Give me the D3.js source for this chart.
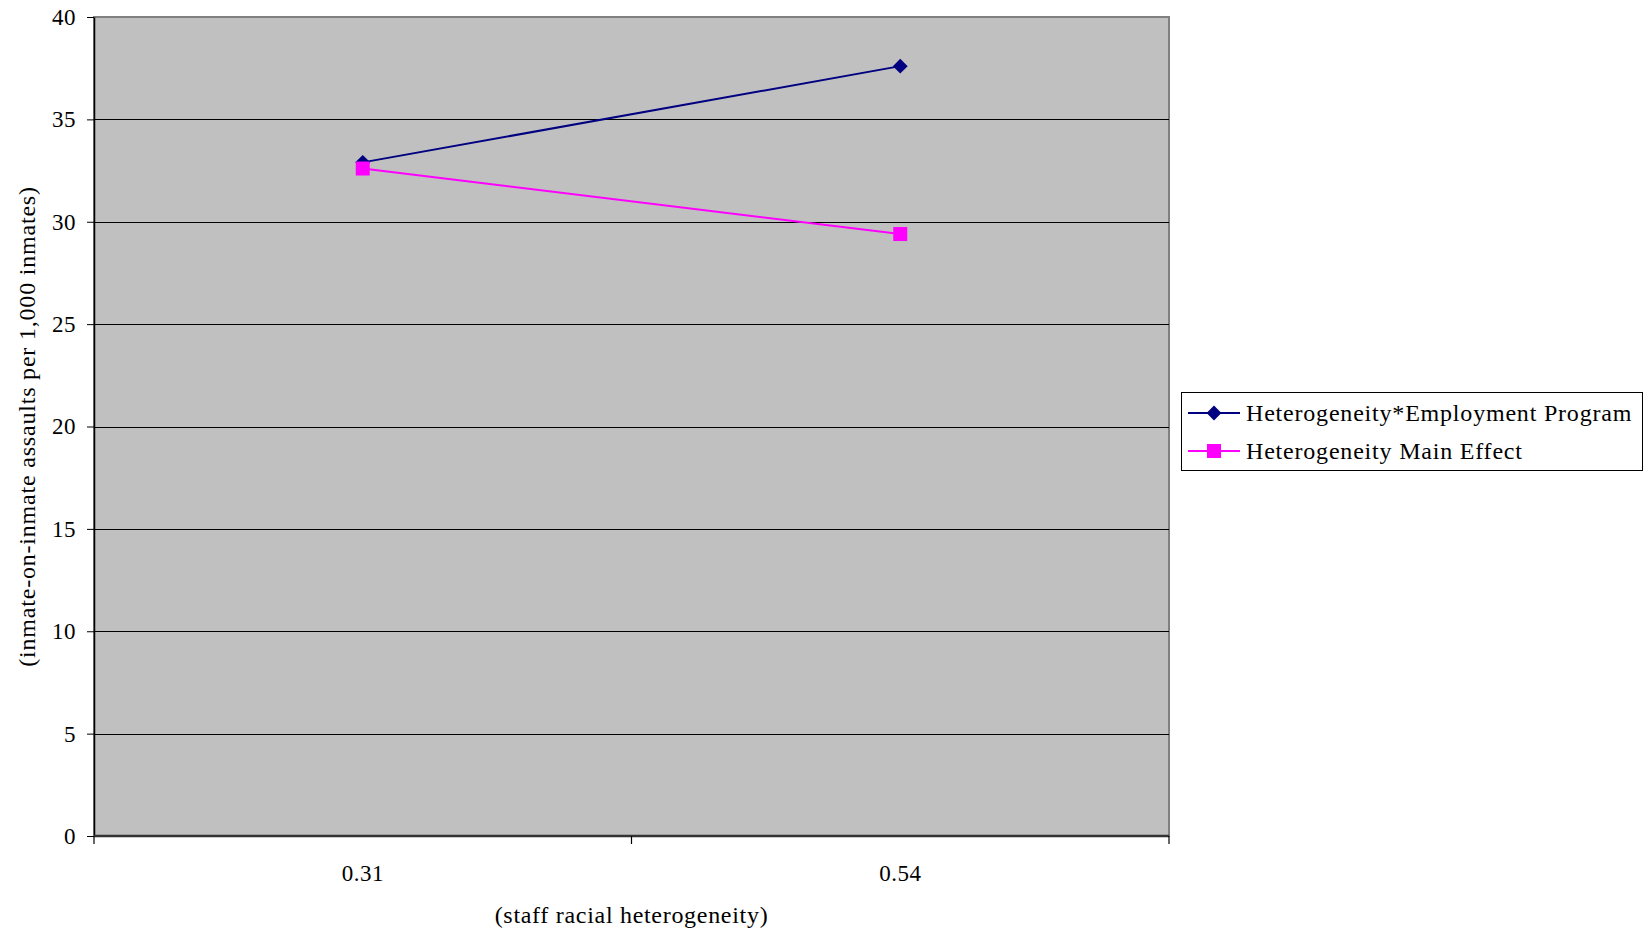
<!DOCTYPE html>
<html>
<head>
<meta charset="utf-8">
<script src="https://cdn.jsdelivr.net/npm/d3@7"></script>
<style>
  html, body { margin: 0; padding: 0; background: #fff; }
  svg { display: block; font-family: "Liberation Serif", "Times New Roman", serif; }
  svg text { font-family: "Liberation Serif", "Times New Roman", serif; fill: #000; }
</style>
</head>
<body>
<svg id="chart" width="1648" height="933"></svg>
<script>
// Staff racial heterogeneity levels (x categories)
const categories = ["0.31", "0.54"];
// Predicted inmate-on-inmate assaults per 1,000 inmates
const interactionValues = [32.9, 37.6];   // Heterogeneity*Employment Program
const mainEffectValues  = [32.6, 29.4];   // Heterogeneity Main Effect
const seriesNames = ["Heterogeneity*Employment Program", "Heterogeneity Main Effect"];
const yTicks = [0, 5, 10, 15, 20, 25, 30, 35, 40];

// rotated square used as the diamond marker
const symbolDiamondSquare = {
  draw(context, size) {
    const r = Math.sqrt(size / 2);
    context.moveTo(0, -r);
    context.lineTo(r, 0);
    context.lineTo(0, r);
    context.lineTo(-r, 0);
    context.closePath();
  }
};

const series = [
  { name: seriesNames[0], values: interactionValues, color: "#000080", symbol: symbolDiamondSquare, size: 110 },
  { name: seriesNames[1], values: mainEffectValues,  color: "#ff00ff", symbol: d3.symbolSquare, size: 196 }
];

const svg = d3.select("#chart");
const plot = { left: 94, right: 1169, top: 17, bottom: 836 };
const TICK_FONT = 23;
const TEXT_FONT = 24;
const SPACING = "0.8px";

const x = d3.scaleBand().domain(categories).range([plot.left, plot.right]).padding(0);
const y = d3.scaleLinear().domain([0, 40]).range([plot.bottom, plot.top]);

// plot area
svg.append("rect")
  .attr("x", plot.left).attr("y", plot.top)
  .attr("width", plot.right - plot.left).attr("height", plot.bottom - plot.top)
  .attr("fill", "#c0c0c0").attr("stroke", "#808080").attr("stroke-width", 2);

// horizontal gridlines
svg.append("g").selectAll("line")
  .data(yTicks.filter(d => d > 0 && d < 40))
  .join("line")
  .attr("x1", plot.left).attr("x2", plot.right)
  .attr("y1", d => Math.round(y(d)) + 0.5).attr("y2", d => Math.round(y(d)) + 0.5)
  .attr("stroke", "#000").attr("stroke-width", 1);

// y axis
const yAxis = d3.axisLeft(y).tickValues(yTicks).tickSize(7).tickPadding(11).tickSizeOuter(0);
const gy = svg.append("g").attr("transform", `translate(${plot.left},0)`).call(yAxis)
  .attr("font-family", "Liberation Serif, Times New Roman, serif");
gy.select(".domain").attr("stroke", "#000").attr("stroke-width", 1.5);
gy.selectAll(".tick line").attr("stroke", "#000");
gy.selectAll(".tick text").attr("font-size", TICK_FONT).attr("fill", "#000")
  .style("letter-spacing", "0.5px");

// x axis: line at zero plus ticks at category boundaries
svg.append("line")
  .attr("x1", plot.left).attr("x2", plot.right)
  .attr("y1", y(0)).attr("y2", y(0))
  .attr("stroke", "#333").attr("stroke-width", 2.5);
const boundaries = categories.map(c => x(c)).concat([x(categories[categories.length - 1]) + x.bandwidth()]);
svg.append("g").selectAll("line")
  .data(boundaries)
  .join("line")
  .attr("x1", d => d).attr("x2", d => d)
  .attr("y1", y(0)).attr("y2", y(0) + 8)
  .attr("stroke", "#000").attr("stroke-width", 1.2);
svg.append("g").selectAll("text")
  .data(categories)
  .join("text")
  .attr("x", d => x(d) + x.bandwidth() / 2)
  .attr("y", 881)
  .attr("text-anchor", "middle")
  .attr("font-size", TICK_FONT)
  .style("letter-spacing", "0.5px")
  .text(d => d);

// axis titles
svg.append("text")
  .attr("x", x(categories[0]) + x.bandwidth())
  .attr("y", 923)
  .attr("text-anchor", "middle")
  .attr("font-size", TEXT_FONT)
  .style("letter-spacing", "0.7px")
  .text("(staff racial heterogeneity)");
svg.append("text")
  .attr("transform", `translate(35,${(plot.top + plot.bottom) / 2}) rotate(-90)`)
  .attr("text-anchor", "middle")
  .attr("font-size", TEXT_FONT)
  .style("letter-spacing", SPACING)
  .text("(inmate-on-inmate assaults per 1,000 inmates)");

// series lines and markers
const line = d3.line()
  .x((d, i) => x(categories[i]) + x.bandwidth() / 2)
  .y(d => y(d));

series.forEach(s => {
  svg.append("path")
    .datum(s.values)
    .attr("d", line)
    .attr("fill", "none")
    .attr("stroke", s.color)
    .attr("stroke-width", 2);
});
series.forEach(s => {
  svg.append("g").selectAll("path")
    .data(s.values)
    .join("path")
    .attr("transform", (d, i) => `translate(${x(categories[i]) + x.bandwidth() / 2},${y(d)})`)
    .attr("d", d3.symbol().type(s.symbol).size(s.size))
    .attr("fill", s.color);
});

// legend
const legend = svg.append("g").attr("transform", "translate(1181,392)");
legend.append("rect")
  .attr("x", 0.5).attr("y", 0.5).attr("width", 461).attr("height", 78)
  .attr("fill", "#fff").attr("stroke", "#000").attr("stroke-width", 1);
series.forEach((s, i) => {
  const cy = 21 + i * 38;
  legend.append("line")
    .attr("x1", 7).attr("x2", 59).attr("y1", cy).attr("y2", cy)
    .attr("stroke", s.color).attr("stroke-width", 2);
  legend.append("path")
    .attr("transform", `translate(33,${cy})`)
    .attr("d", d3.symbol().type(s.symbol).size(s.size))
    .attr("fill", s.color);
  legend.append("text")
    .attr("x", 65).attr("y", cy + 8)
    .attr("font-size", TEXT_FONT)
    .style("letter-spacing", SPACING)
    .text(s.name);
});
</script>
</body>
</html>
